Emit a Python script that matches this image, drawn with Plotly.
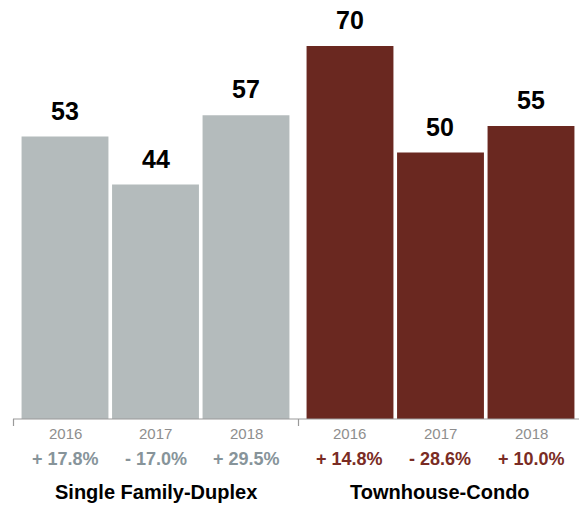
import plotly.graph_objects as go

# Sales by property type, three years each
years = ["2016", "2017", "2018"]
single_family = [53, 44, 57]
townhouse = [70, 50, 55]
single_family_change = ["+ 17.8%", "- 17.0%", "+ 29.5%"]
townhouse_change = ["+ 14.8%", "- 28.6%", "+ 10.0%"]
group_names = ["Single Family-Duplex", "Townhouse-Condo"]

GRAY_BAR = "#b4bbbc"
MAROON_BAR = "#6a2820"
GRAY_TEXT = "#87949a"
MAROON_TEXT = "#7a2c24"
YEAR_TEXT = "#8e8e8e"
FONT = "Liberation Sans, Arial, Helvetica, sans-serif"

W, H = 579, 505
PLOT_BOTTOM = 419  # pixel row of the baseline

fig = go.Figure()
fig.add_trace(go.Bar(x=years, y=single_family, marker_color=GRAY_BAR,
                     marker_line_width=0, xaxis="x", yaxis="y", hoverinfo="skip"))
fig.add_trace(go.Bar(x=years, y=townhouse, marker_color=MAROON_BAR,
                     marker_line_width=0, xaxis="x2", yaxis="y", hoverinfo="skip"))

annotations = []


def py_to_paper(py):
    return (PLOT_BOTTOM - py) / PLOT_BOTTOM


groups = [
    ("x", single_family, single_family_change, GRAY_TEXT, group_names[0]),
    ("x2", townhouse, townhouse_change, MAROON_TEXT, group_names[1]),
]
for xref, values, changes, ccolor, gname in groups:
    for i, (yr, v, ch) in enumerate(zip(years, values, changes)):
        # value above each bar
        annotations.append(dict(x=i, y=v, xref=xref, yref="y", text="<b>" + str(v) + "</b>",
                                showarrow=False, yanchor="bottom", yshift=10,
                                font=dict(family=FONT, size=25, color="#000000")))
        # year label under the axis
        annotations.append(dict(x=i, y=py_to_paper(433), xref=xref, yref="paper",
                                text=yr, showarrow=False, yanchor="middle",
                                font=dict(family=FONT, size=15, color=YEAR_TEXT)))
        # year-over-year change
        annotations.append(dict(x=i, y=py_to_paper(459), xref=xref, yref="paper",
                                text="<b>" + ch + "</b>", showarrow=False, yanchor="middle",
                                font=dict(family=FONT, size=18, color=ccolor)))
    # group title centred under its three bars
    annotations.append(dict(x=1, y=py_to_paper(492), xref=xref, yref="paper",
                            text="<b>" + gname + "</b>", showarrow=False, yanchor="middle",
                            font=dict(family=FONT, size=20, color="#000000")))

AXIS_COLOR = "#9a9a9a"
shapes = [
    dict(type="line", xref="paper", yref="paper", x0=13 / W, x1=1.0, y0=0, y1=0,
         line=dict(color=AXIS_COLOR, width=1.2)),
    dict(type="line", xref="paper", yref="paper", x0=13.5 / W, x1=13.5 / W,
         y0=0, y1=py_to_paper(426), line=dict(color=AXIS_COLOR, width=1.2)),
    dict(type="line", xref="paper", yref="paper", x0=298.5 / W, x1=298.5 / W,
         y0=0, y1=py_to_paper(426), line=dict(color=AXIS_COLOR, width=1.2)),
]

axis_common = dict(type="category", range=[-0.5, 2.5], autorange=False,
                   showticklabels=False, showgrid=False, zeroline=False,
                   showline=False, ticks="", fixedrange=True)

fig.update_layout(
    width=W, height=H,
    margin=dict(l=0, r=0, t=0, b=H - PLOT_BOTTOM, pad=0),
    paper_bgcolor="white", plot_bgcolor="white",
    showlegend=False, bargap=0.04,
    xaxis=dict(domain=[19.75 / W, 291.25 / W], **axis_common),
    xaxis2=dict(domain=[304.75 / W, 576.25 / W], **axis_common),
    yaxis=dict(range=[0, 78.63], autorange=False, showticklabels=False, showgrid=False,
               zeroline=False, showline=False, fixedrange=True),
    annotations=annotations,
    shapes=shapes,
    font=dict(family=FONT),
)

fig.write_html("out.html", config={"displayModeBar": False})
